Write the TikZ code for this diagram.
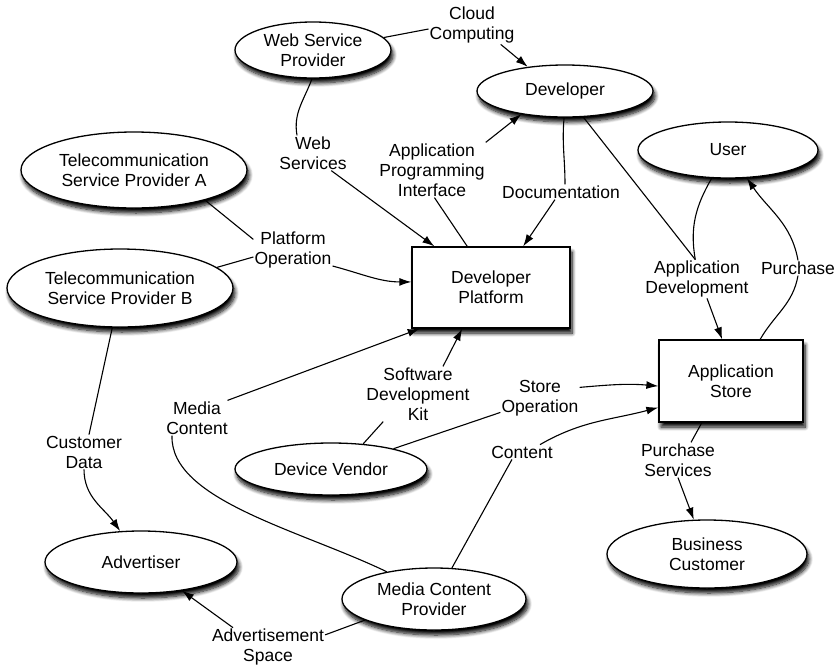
\documentclass[tikz,border=0pt]{standalone}
\usepackage{fontspec}
\setmainfont{Liberation Sans}
\usetikzlibrary{shapes.geometric,arrows.meta,shadows.blur}

\begin{document}
\begin{tikzpicture}[x=1pt,y=-1pt,
  font=\fontsize{17.5}{20}\selectfont,
  soft/.style={blur shadow={shadow xshift=2pt,shadow yshift=-5pt,
      shadow blur radius=4pt,shadow blur steps=8,shadow opacity=100}},
  actor/.style={ellipse,draw,line width=1.3pt,fill=white,inner sep=0pt,
      align=center,soft},
  hub/.style={rectangle,draw,line width=1.3pt,fill=white,inner sep=0pt,
      align=center,soft},
  lbl/.style={align=center,inner sep=1pt},
  flow/.style={line width=1.1pt},
  arr/.style={flow,-{Latex[length=12pt,width=8pt]}}]

\useasboundingbox (0,0) rectangle (838,667);

% ---- actors and platforms ----
\node[actor,minimum width=156pt,minimum height=56pt] (wsp)  at (313,50)  {Web Service\\Provider};
\node[actor,minimum width=176pt,minimum height=52pt] (dev)  at (565,91)  {Developer};
\node[actor,minimum width=180pt,minimum height=56pt] (user) at (728,150) {User};
\node[actor,minimum width=226pt,minimum height=76pt] (telA) at (134,170) {Telecommunication\\Service Provider A};
\node[actor,minimum width=226pt,minimum height=78pt] (telB) at (120,288) {Telecommunication\\Service Provider B};
\node[hub,minimum width=158pt,minimum height=81pt]   (dp)   at (491,287.5) {Developer\\Platform};
\node[hub,minimum width=144pt,minimum height=82pt]   (as)   at (731,381) {Application\\Store};
\node[actor,minimum width=192pt,minimum height=52pt] (dv)   at (331,469) {Device Vendor};
\node[actor,minimum width=192pt,minimum height=62pt] (adv)  at (141,562) {Advertiser};
\node[actor,minimum width=184pt,minimum height=62pt] (mcp)  at (434,599) {Media Content\\Provider};
\node[actor,minimum width=200pt,minimum height=68pt] (bc)   at (707,554) {Business\\Customer};

% ---- flow labels ----
\node[lbl] (cloud)   at (472,25)  {Cloud\\Computing};
\node[lbl] (web)     at (313,153) {Web\\Services};
\node[lbl] (api)     at (432,170) {Application\\Programming\\Interface};
\node[lbl] (doc)     at (561,192) {Documentation};
\node[lbl] (plat)    at (293,250) {Platform\\Operation};
\node[lbl] (appdev)  at (697,279) {Application\\Development};
\node[lbl] (purch)   at (798,268) {Purchase};
\node[lbl] (sdk)     at (418,394) {Software\\Development\\Kit};
\node[lbl] (store)   at (540,398) {Store\\Operation};
\node[lbl] (mc)      at (197,418) {Media\\Content};
\node[lbl] (content) at (522,452) {Content};
\node[lbl] (pserv)   at (678,460) {Purchase\\Services};
\node[lbl] (cust)    at (84,452)  {Customer\\Data};
\node[lbl] (adspace) at (268,647) {Advertisement\\Space};

% ---- flows ----
\draw[flow] (wsp.10) -- ([yshift=-4pt]cloud.west);
\draw[arr]  (cloud.-34) -- (dev.147);

\draw[flow] (wsp.-92) to[out=-110,in=100] ([xshift=-16pt]web.north);
\draw[arr]  (web.-44) -- (dp.144);

\draw[flow] (dp.120) -- (api.-85);
\draw[arr]  (api.north east) -- (dev.208);

\draw[flow] (dev.-92) to[out=-95,in=90] ([xshift=4pt]doc.north);
\draw[arr]  ([xshift=-6pt]doc.south) -- (dp.52);

\draw[flow] (telA.-23) -- (plat.165);
\draw[flow] (telB.12) -- (plat.190);
\draw[arr]  (plat.-22) to[out=-15,in=180] (dp.176);

\draw[flow] (dev.-55) -- (appdev.95);
\draw[flow] (user.-120) to[out=-120,in=100] (appdev.95);
\draw[arr]  ([xshift=10pt]appdev.south) -- (as.102);

\draw[flow] (as.55) to[out=60,in=-100] (purch.south);
\draw[arr]  (purch.north) to[out=100,in=-56] (user.-56);

\draw[flow] (dv.38) -- ([xshift=18pt]sdk.south west);
\draw[arr]  ([xshift=25pt]sdk.north) -- (dp.-125);

\draw[flow] (dv.18) -- (store.200);
\draw[arr]  (store.15) to[out=5,in=175] (as.184);

\draw[flow] (mcp.60) -- ([xshift=-10pt]content.south);
\draw[arr]  ([xshift=18pt]content.north) to[out=30,in=195] (as.200);

\draw[flow] (mcp.150) .. controls (300,530) and (170,500) .. ([xshift=-25pt]mc.south);
\draw[arr]  (mc.30) -- (dp.-150);

\draw[flow] (telB.-101) -- ([xshift=5pt]cust.north);
\draw[arr]  (cust.south) to[out=-90,in=125] (adv.124);

\draw[flow] (mcp.197) -- (adspace.12);
\draw[arr]  ([xshift=-35pt]adspace.north) -- (adv.-35);

\draw[flow] (as.-125) -- ([xshift=13pt]pserv.north);
\draw[arr]  (pserv.south) -- (bc.111);

\end{tikzpicture}
\end{document}
